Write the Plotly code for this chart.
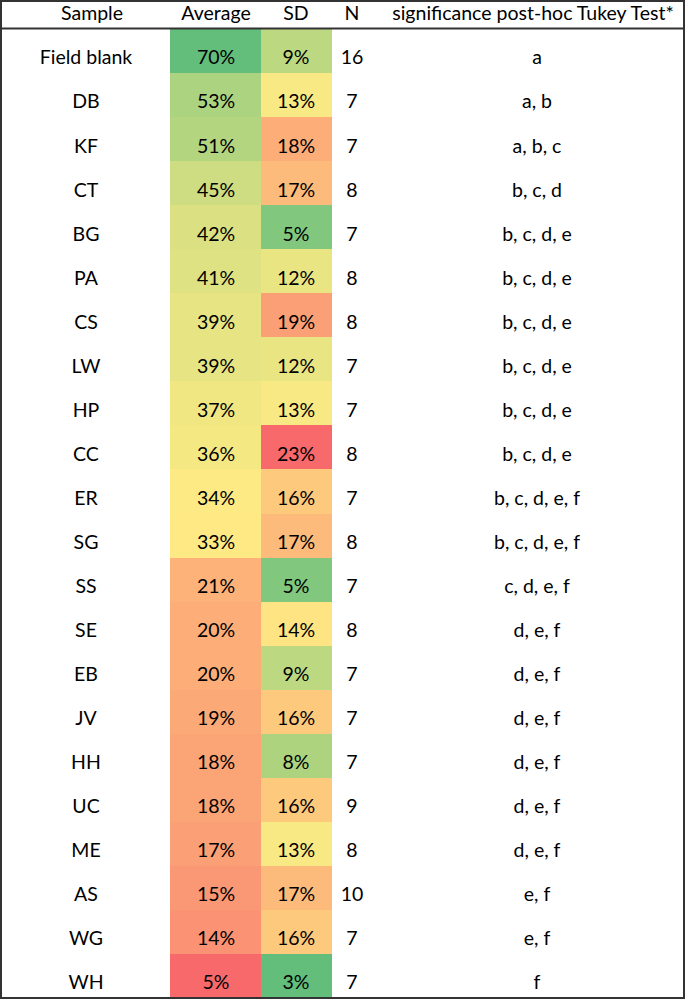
import numpy as np
import plotly.graph_objects as go

samples = ["Field blank", "DB", "KF", "CT", "BG", "PA", "CS", "LW", "HP", "CC", "ER",
           "SG", "SS", "SE", "EB", "JV", "HH", "UC", "ME", "AS", "WG", "WH"]
average = [70, 53, 51, 45, 42, 41, 39, 39, 37, 36, 34, 33, 21, 20, 20, 19, 18, 18, 17, 15, 14, 5]
sd = [9, 13, 18, 17, 5, 12, 19, 12, 13, 23, 16, 17, 5, 14, 9, 16, 8, 16, 13, 17, 16, 3]
n = [16, 7, 7, 8, 7, 8, 8, 7, 7, 8, 7, 8, 7, 8, 7, 7, 7, 9, 8, 10, 7, 7]
tukey = ["a", "a, b", "a, b, c", "b, c, d", "b, c, d, e", "b, c, d, e", "b, c, d, e",
         "b, c, d, e", "b, c, d, e", "b, c, d, e", "b, c, d, e, f", "b, c, d, e, f",
         "c, d, e, f", "d, e, f", "d, e, f", "d, e, f", "d, e, f", "d, e, f", "d, e, f",
         "e, f", "e, f", "f"]
headers = ["Sample", "Average", "SD", "N", "significance post-hoc Tukey Test*"]

RED, YEL, GRN = "#F8696B", "#FFEB84", "#63BE7B"
FONT = "Lato"
FSIZE = 19.5
W, H = 686, 1000
top, rh = 29.0, 44.05
nrows = len(samples)
edges = [top + i * rh for i in range(nrows + 1)]
centers = [top + (i + 0.5) * rh for i in range(nrows)]
text_y = [c + 8.5 for c in centers]

col_x = [86, 216, 296, 352, 537]
avg_edges = [170, 261]
sd_edges = [261, 332]

fig = go.Figure()

# Average colour scale (Excel 3-colour, midpoint = 50th percentile)
a_min, a_max, a_mid = min(average), max(average), np.percentile(average, 50)
fa = (a_mid - a_min) / (a_max - a_min)
fig.add_trace(go.Heatmap(
    z=[[v] for v in average], x=avg_edges, y=edges,
    zmin=a_min, zmax=a_max,
    colorscale=[[0, RED], [fa, YEL], [1, GRN]],
    showscale=False, hoverinfo="skip", xgap=0, ygap=0))

s_min, s_max, s_mid = min(sd), max(sd), np.percentile(sd, 50)
fs = (s_mid - s_min) / (s_max - s_min)
fig.add_trace(go.Heatmap(
    z=[[v] for v in sd], x=sd_edges, y=edges,
    zmin=s_min, zmax=s_max,
    colorscale=[[0, GRN], [fs, YEL], [1, RED]],
    showscale=False, hoverinfo="skip", xgap=0, ygap=0))

cols = [samples, [f"{v}%" for v in average], [f"{v}%" for v in sd],
        [str(v) for v in n], tukey]
for cx, vals in zip(col_x, cols):
    fig.add_trace(go.Scatter(
        x=[cx] * nrows, y=text_y, mode="text", text=vals,
        textfont=dict(family=FONT, size=FSIZE, color="#000000"),
        hoverinfo="skip", showlegend=False))

head_x = [92, 216, 296, 352, 533]
fig.add_trace(go.Scatter(
    x=head_x, y=[15.5] * len(headers), mode="text", text=headers,
    textfont=dict(family=FONT, size=FSIZE, color="#000000"),
    hoverinfo="skip", showlegend=False))

line = dict(color="#333333", width=2)
fig.add_shape(type="rect", x0=1, x1=684, y0=1, y1=998, line=line, layer="above")
fig.add_shape(type="line", x0=1, x1=684, y0=top - 0.5, y1=top - 0.5, line=line, layer="above")

fig.update_layout(
    width=W, height=H, margin=dict(l=0, r=0, t=0, b=0),
    paper_bgcolor="white", plot_bgcolor="white", showlegend=False,
    xaxis=dict(range=[0, W], visible=False, fixedrange=True),
    yaxis=dict(range=[H, 0], visible=False, fixedrange=True),
)

fig.write_html("out.html", config={"displayModeBar": False},
               post_script="document.body.style.margin='0';")
